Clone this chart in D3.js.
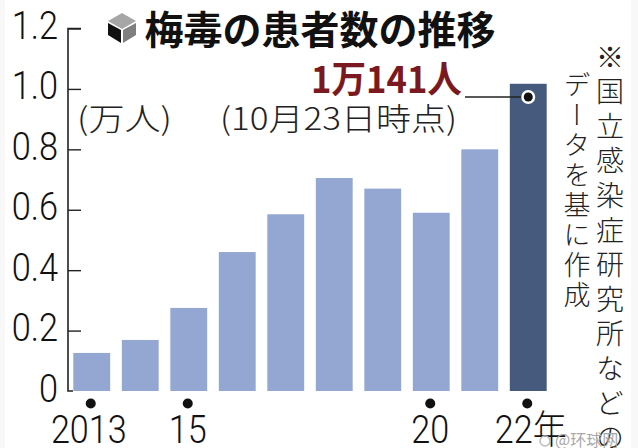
<!DOCTYPE html>
<html lang="ja"><head><meta charset="utf-8">
<script src="https://cdn.jsdelivr.net/npm/d3@7/dist/d3.min.js"></script>
<style>html,body{margin:0;padding:0;background:#fff}svg{display:block}</style></head>
<body><svg id="c" width="638" height="448"></svg>
<script>
const years = [2013,2014,2015,2016,2017,2018,2019,2020,2021,2022];
const patients = [0.126,0.169,0.275,0.46,0.585,0.705,0.67,0.59,0.80,1.017];
const yTicks = [0,0.2,0.4,0.6,0.8,1.0,1.2];
const yTickLabels = ["0","0.2","0.4","0.6","0.8","1.0","1.2"];
const xLabelled = [2013,2015,2020,2022];
const xLabels = ["2013","15","20","22年"];
const title = "梅毒の患者数の推移";
const unit = "(万人)";
const callout = "1万141人";
const calloutSub = "(10月23日時点)";
const note1 = "※国立感染症研究所などの";
const note2 = "データを基に作成";
const watermark = "@环球网";

const JP = '"Noto Sans CJK JP","Noto Sans",sans-serif';
const NUM = 'Roboto,'+JP;
const svg = d3.select("#c");
svg.append("rect").attr("x",0).attr("y",0).attr("width",5).attr("height",448).attr("fill","#f8f8f8");
svg.append("rect").attr("x",631).attr("y",0).attr("width",7).attr("height",448).attr("fill","#f8f8f8");

const x = d3.scaleBand().domain(years).range([67.5,552.5]).paddingInner(0.24).paddingOuter(0.12);
const y = d3.scaleLinear().domain([0,1.2]).range([391,28.5]);

function squeeze(sel,k){ sel.each(function(){ this.setAttribute("textLength",this.getComputedTextLength()*k); this.setAttribute("lengthAdjust","spacingAndGlyphs"); }); }

svg.selectAll("rect.bar").data(years).join("rect").attr("class","bar")
  .attr("x",d=>x(d)).attr("width",x.bandwidth())
  .attr("y",(d,i)=>y(patients[i])).attr("height",(d,i)=>y(0)-y(patients[i]))
  .attr("fill",d=>d===2022?"#455a7c":"#93a7d2");

// y axis
const ax = svg.append("g").attr("transform","translate(68,0)")
  .call(d3.axisRight(y).tickValues(yTicks).tickSize(13).tickFormat(""));
ax.selectAll("path").attr("d",`M13,${y(1.2)}H0V${y(0)}H5`).attr("stroke","#222").attr("stroke-width",1.6).attr("fill","none");
ax.selectAll("line").attr("stroke","#222").attr("stroke-width",1.4).filter(d=>d===0).remove();

svg.append("g").selectAll("text").data(yTicks).join("text")
  .attr("x",58).attr("y",d=>y(d)+10.5).attr("text-anchor","end")
  .attr("font-family",NUM).attr("font-weight",300).attr("font-size",39).attr("fill","#111")
  .text((d,i)=>yTickLabels[i]).call(squeeze,0.88);

// x dots and labels
svg.selectAll("circle.xd").data(xLabelled).join("circle").attr("class","xd")
  .attr("cx",d=>x(d)+x.bandwidth()/2-1).attr("cy",403.5).attr("r",5).attr("fill","#111");
svg.selectAll("text.xl").data(xLabelled).join("text").attr("class","xl")
  .attr("x",d=>d===2022?x(d)-15:x(d)+x.bandwidth()/2-(d===2013?3:1))
  .attr("y",443).attr("text-anchor",d=>d===2022?"start":"middle")
  .attr("font-family",NUM).attr("font-weight",300).attr("font-size",39).attr("fill","#111")
  .text((d,i)=>xLabels[i]).call(squeeze,0.875);

// title and cube icon
const cube = svg.append("g").attr("transform","translate(108,13)");
[["14,0 28,8 14,16 0,8","#a6a6a6"],["0,10 13,17 13,30 0,22","#111"],["28,10 15,17 15,30 28,22","#7f7f7f"]]
 .forEach(p=>cube.append("polygon").attr("points",p[0]).attr("fill",p[1]));
svg.append("text").attr("x",144.5).attr("y",43.5).attr("font-family",JP).attr("font-weight",700)
  .attr("font-size",39).attr("fill","#111").text(title);

svg.append("text").attr("x",77).attr("y",130).attr("font-family",JP).attr("font-weight",300)
  .attr("font-size",31).attr("fill","#222").attr("textLength",95).attr("lengthAdjust","spacingAndGlyphs").text(unit);
svg.append("text").attr("x",220).attr("y",130).attr("font-family",JP).attr("font-weight",300)
  .attr("font-size",31).attr("fill","#222").attr("textLength",237).attr("lengthAdjust","spacingAndGlyphs").text(calloutSub);
svg.append("text").attr("x",311).attr("y",93).attr("font-family",JP).attr("font-weight",700)
  .attr("font-size",37).attr("fill","#7a1a20").attr("textLength",151).attr("lengthAdjust","spacingAndGlyphs").text(callout);

// leader
const cx = x(2022)+x.bandwidth()/2;
svg.append("line").attr("x1",465).attr("x2",cx).attr("y1",97).attr("y2",97).attr("stroke","#222").attr("stroke-width",1.5);
svg.append("circle").attr("cx",cx).attr("cy",97).attr("r",7).attr("fill","#fff");
svg.append("circle").attr("cx",cx).attr("cy",97).attr("r",4.5).attr("fill","#111");

// vertical notes
svg.append("text").attr("x",610).attr("y",43).attr("writing-mode","vertical-rl")
  .attr("font-family",JP).attr("font-weight",300).attr("font-size",28).attr("letter-spacing",6.6).attr("fill","#222").text(note1);
svg.append("text").attr("x",577).attr("y",71.5).attr("writing-mode","vertical-rl")
  .attr("font-family",JP).attr("font-weight",300).attr("font-size",27).attr("letter-spacing",3).attr("fill","#222").text(note2);

svg.append("circle").attr("cx",545).attr("cy",441).attr("r",5).attr("fill","none").attr("stroke","#bbb").attr("stroke-width",1.5);
svg.append("text").attr("x",555).attr("y",446).attr("font-family",JP).attr("font-size",16).attr("fill","#a8a8a8").text(watermark);
</script></body></html>
